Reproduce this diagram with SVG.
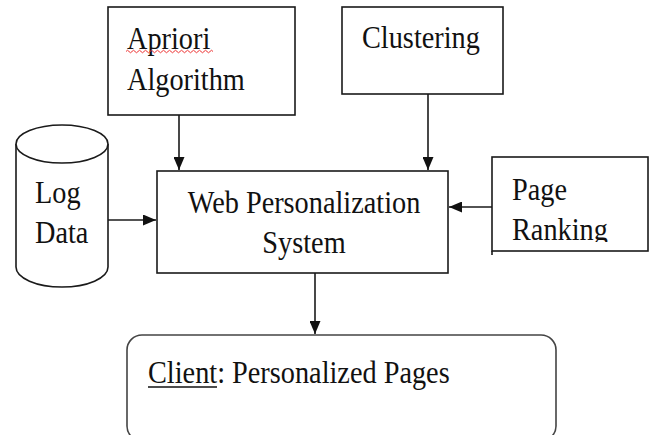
<svg xmlns="http://www.w3.org/2000/svg" width="652" height="435" viewBox="0 0 652 435">
<style>
.box{fill:#fff;stroke:#1a1a1a;stroke-width:1.6}
.conn{fill:none;stroke:#1a1a1a;stroke-width:1.6}
.t{font-family:"Liberation Serif","Times New Roman",serif;font-size:28.3px;fill:#111}
</style>
<defs>
<marker id="arr" viewBox="0 0 13 11" refX="13" refY="5.5" markerWidth="13" markerHeight="11" markerUnits="userSpaceOnUse" orient="auto">
<path d="M0,0 L13,5.5 L0,11 Z" fill="#111"/>
</marker>
<clipPath id="prClip"><rect x="492" y="157" width="156" height="85"/></clipPath>
</defs>
<rect width="652" height="435" fill="#fff"/>

<g id="apriori">
<rect class="box" x="108" y="7" width="187" height="108"/>
<text class="t" transform="translate(127,49) scale(1,1.15)">Apriori</text>
<path d="M126,51.5 q1.5,-2.5 3,0 t3,0 t3,0 t3,0 t3,0 t3,0 t3,0 t3,0 t3,0 t3,0 t3,0 t3,0 t3,0 t3,0 t3,0 t3,0 t3,0 t3,0 t3,0 t3,0 t3,0 t3,0 t3,0 t3,0 t3,0 t3,0 t3,0 t3,0 t3,0" fill="none" stroke="#e33" stroke-width="1"/>
<text class="t" transform="translate(127,90) scale(1,1.15)">Algorithm</text>
</g>

<g id="clustering">
<rect class="box" x="342" y="7" width="161" height="87"/>
<text class="t" transform="translate(362,48) scale(1,1.15)">Clustering</text>
</g>

<g id="logdata">
<path class="box" d="M16,144 L16,267 A46,20 0 0 0 108,267 L108,144"/>
<ellipse class="box" cx="62" cy="144" rx="46" ry="19"/>
<text class="t" transform="translate(35,203) scale(1,1.15)">Log</text>
<text class="t" transform="translate(35,243) scale(1,1.15)">Data</text>
</g>

<g id="web">
<rect class="box" x="157" y="171" width="291" height="102"/>
<text class="t" text-anchor="middle" transform="translate(304,213) scale(1,1.15)">Web Personalization</text>
<text class="t" text-anchor="middle" transform="translate(304,253) scale(1,1.15)">System</text>
</g>

<g id="pageranking">
<rect class="box" x="492" y="157" width="156" height="94"/>
<line class="conn" x1="492" y1="251" x2="492" y2="255"/>
<g clip-path="url(#prClip)">
<text class="t" transform="translate(512,200) scale(1,1.15)">Page</text>
<text class="t" transform="translate(512,240) scale(1,1.15)">Ranking</text>
</g>
</g>

<g id="client">
<rect x="127" y="335" width="429" height="106" rx="15" ry="15" fill="#fff" stroke="#444" stroke-width="1.6"/>
<text class="t" transform="translate(148,383) scale(1,1.15)">Client: Personalized Pages</text>
<line x1="148" y1="387" x2="217" y2="387" stroke="#111" stroke-width="1.4"/>
</g>

<g id="connectors">
<line class="conn" x1="179" y1="115" x2="179" y2="170" marker-end="url(#arr)"/>
<line class="conn" x1="428" y1="94" x2="428" y2="170" marker-end="url(#arr)"/>
<line class="conn" x1="108" y1="220" x2="156" y2="220" marker-end="url(#arr)"/>
<line class="conn" x1="492" y1="207" x2="449" y2="207" marker-end="url(#arr)"/>
<line class="conn" x1="315" y1="273" x2="315" y2="334" marker-end="url(#arr)"/>
</g>
</svg>
